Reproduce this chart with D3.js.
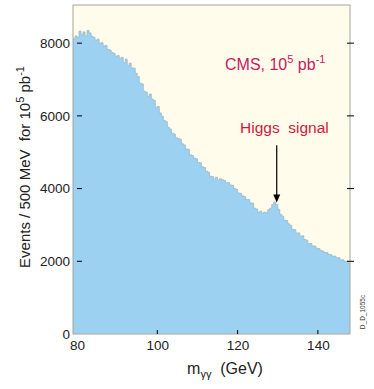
<!DOCTYPE html>
<html>
<head>
<meta charset="utf-8">
<script src="https://cdn.jsdelivr.net/npm/d3@7"></script>
<style>
  body { margin: 0; background: #fff; }
  svg { display: block; font-family: "Liberation Sans", Arial, sans-serif; }
</style>
</head>
<body>
<div id="wrapper"></div>
<script>
// bin lower edges start at 79 GeV, 0.5 GeV wide
const binStart = 79
const binWidth = 0.5
const counts = [
  8120, 8200, 8160, 8330, 8240, 8310, 8200, 8350, 8280, 8190,
  8160, 8080, 8110, 8000, 8010, 7920, 7940, 7830, 7810, 7740,
  7720, 7640, 7660, 7580, 7610, 7460, 7560, 7380, 7450, 7320,
  7310, 7170, 7080, 6900, 6880, 6680, 6650, 6540, 6600, 6460,
  6420, 6230, 6260, 6080, 5990, 5870, 5840, 5690, 5640, 5520,
  5500, 5400, 5380, 5360, 5230, 5200, 5090, 5080, 4930, 4910,
  4840, 4820, 4720, 4710, 4600, 4580, 4480, 4450, 4340, 4330,
  4260, 4310, 4230, 4270, 4240, 4220, 4160, 4170, 4100, 4090,
  4000, 3980, 3880, 3870, 3800, 3780, 3700, 3700, 3610, 3600,
  3460, 3440, 3350, 3380, 3320, 3350, 3340, 3420, 3460, 3560,
  3630, 3560, 3430, 3290, 3240, 3130, 3120, 3030, 2990, 2880,
  2870, 2780, 2780, 2690, 2700, 2600, 2580, 2480, 2490, 2420,
  2420, 2360, 2350, 2300, 2280, 2240, 2240, 2190, 2180, 2140,
  2140, 2100, 2100, 2040, 2040, 2000, 2000, 1950
]
const xTicks = [80, 100, 120, 140]
const yTicks = [0, 2000, 4000, 6000, 8000]
const higgsMass = 129.5
const higgsArrow = [3900, 3560]

const dimensions = {
  width: 374,
  height: 389,
  margin: { top: 5, right: 24, bottom: 55, left: 73 },
}
dimensions.boundedWidth = dimensions.width - dimensions.margin.left - dimensions.margin.right
dimensions.boundedHeight = dimensions.height - dimensions.margin.top - dimensions.margin.bottom

const bins = counts.map((c, i) => ({ x0: binStart + i * binWidth, n: c }))

const wrapper = d3.select("#wrapper")
  .append("svg")
  .attr("width", dimensions.width)
  .attr("height", dimensions.height)

const bounds = wrapper.append("g")
  .attr("transform", `translate(${dimensions.margin.left},${dimensions.margin.top})`)

const xScale = d3.scaleLinear()
  .domain([79, 148])
  .range([0, dimensions.boundedWidth])

const yScale = d3.scaleLinear()
  .domain([0, 9050])
  .range([dimensions.boundedHeight, 0])

// background
bounds.append("rect")
  .attr("width", dimensions.boundedWidth)
  .attr("height", dimensions.boundedHeight)
  .attr("fill", "#fffcec")

// histogram
const stepData = bins.concat([{ x0: binStart + counts.length * binWidth, n: counts[counts.length - 1] }])
const area = d3.area()
  .x(d => xScale(d.x0))
  .y0(yScale(0))
  .y1(d => yScale(d.n))
  .curve(d3.curveStepAfter)

bounds.append("path")
  .datum(stepData)
  .attr("d", area)
  .attr("fill", "#9dd1f1")

const line = d3.line()
  .x(d => xScale(d.x0))
  .y(d => yScale(d.n))
  .curve(d3.curveStepAfter)

bounds.append("path")
  .datum(stepData)
  .attr("d", line)
  .attr("fill", "none")
  .attr("stroke", "#9ab8c8")
  .attr("stroke-width", 0.8)

// frame
bounds.append("rect")
  .attr("width", dimensions.boundedWidth)
  .attr("height", dimensions.boundedHeight)
  .attr("fill", "none")
  .attr("stroke", "#a8a49a")
  .attr("stroke-width", 1)

// axes
const yAxisGen = d3.axisLeft(yScale).tickValues(yTicks).tickSize(0).tickPadding(3)
  .tickFormat(d3.format("d"))
const yAxis = bounds.append("g").call(yAxisGen)
yAxis.select(".domain").remove()
yAxis.selectAll("text").attr("font-size", 13.5).attr("fill", "#222")
  .attr("font-family", "Liberation Sans, Arial, sans-serif")

// little inside ticks on the left
bounds.append("g").selectAll("line")
  .data(yTicks.filter(d => d > 0))
  .join("line")
  .attr("x1", 4).attr("x2", 9)
  .attr("y1", d => yScale(d)).attr("y2", d => yScale(d))
  .attr("stroke", "#000")

// ticks crossing the right frame
bounds.append("g").selectAll("line")
  .data(yTicks.filter(d => d > 0))
  .join("line")
  .attr("x1", dimensions.boundedWidth - 3).attr("x2", dimensions.boundedWidth + 4)
  .attr("y1", d => yScale(d)).attr("y2", d => yScale(d))
  .attr("stroke", "#000")

const xAxisGen = d3.axisBottom(xScale).tickValues(xTicks).tickSize(0).tickPadding(6)
  .tickFormat(d3.format("d"))
const xAxis = bounds.append("g")
  .attr("transform", `translate(0,${dimensions.boundedHeight})`)
  .call(xAxisGen)
xAxis.select(".domain").remove()
xAxis.selectAll("text").attr("font-size", 13.5).attr("fill", "#222")
  .attr("font-family", "Liberation Sans, Arial, sans-serif")

bounds.append("g").selectAll("line")
  .data(xTicks.filter(d => d > 80))
  .join("line")
  .attr("x1", d => xScale(d)).attr("x2", d => xScale(d))
  .attr("y1", dimensions.boundedHeight - 4).attr("y2", dimensions.boundedHeight)
  .attr("stroke", "#000")

// axis labels
const xLabel = wrapper.append("text")
  .attr("x", 225)
  .attr("y", 374)
  .attr("text-anchor", "middle")
  .attr("font-size", 16)
  .attr("fill", "#222")
  .attr("xml:space", "preserve")
xLabel.append("tspan").text("m")
xLabel.append("tspan").attr("font-size", 11).attr("dy", 4).text("γγ")
xLabel.append("tspan").attr("dy", -4).text("  (GeV)")

const yLabel = wrapper.append("text")
  .attr("transform", "translate(30,167) rotate(-90)")
  .attr("text-anchor", "middle")
  .attr("font-size", 15)
  .attr("fill", "#222")
  .attr("xml:space", "preserve")
yLabel.append("tspan").text("Events / 500 MeV  for 10")
yLabel.append("tspan").attr("font-size", 11).attr("dy", -6).text("5")
yLabel.append("tspan").attr("dy", 6).text(" pb")
yLabel.append("tspan").attr("font-size", 11).attr("dy", -6).text("-1")

// annotations
const cms = wrapper.append("text")
  .attr("x", 225)
  .attr("y", 70)
  .attr("font-size", 16)
  .attr("fill", "#c81860")
cms.append("tspan").text("CMS, 10")
cms.append("tspan").attr("font-size", 11).attr("dy", -7).text("5")
cms.append("tspan").attr("dy", 7).text(" pb")
cms.append("tspan").attr("font-size", 11).attr("dy", -7).text("-1")

wrapper.append("text")
  .attr("x", 240)
  .attr("y", 133)
  .attr("font-size", 15.5)
  .attr("fill", "#d0183c")
  .attr("xml:space", "preserve")
  .text("Higgs  signal")

// arrow to the peak
const ax = dimensions.margin.left + xScale(higgsMass) + 1
const ayTop = dimensions.margin.top + yScale(higgsArrow[0]) - 47
const ayTip = dimensions.margin.top + yScale(higgsArrow[1]) - 2
wrapper.append("line")
  .attr("x1", ax).attr("x2", ax)
  .attr("y1", ayTop).attr("y2", ayTip - 6)
  .attr("stroke", "#000")
  .attr("stroke-width", 1.2)
wrapper.append("path")
  .attr("d", `M${ax - 3.5},${ayTip - 8} L${ax + 3.5},${ayTip - 8} L${ax},${ayTip} Z`)
  .attr("fill", "#000")

// figure id at the right
wrapper.append("text")
  .attr("transform", "translate(365,312) rotate(-90)")
  .attr("text-anchor", "middle")
  .attr("font-size", 6.5)
  .attr("fill", "#333")
  .text("D_D_1055c")
</script>
</body>
</html>
